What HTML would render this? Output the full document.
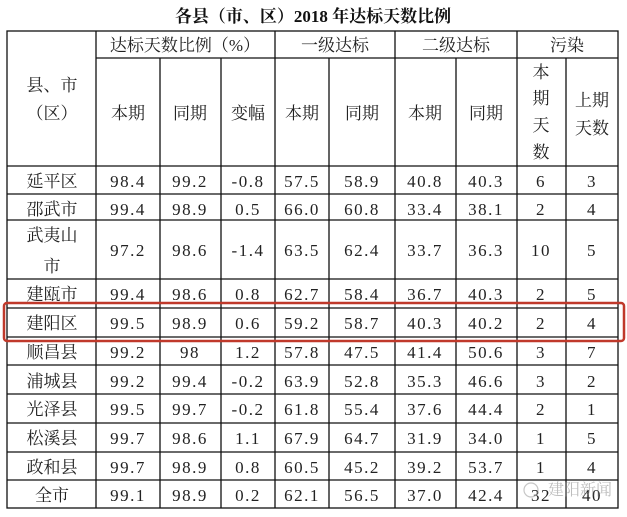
<!DOCTYPE html>
<html><head><meta charset="utf-8"><style>
html,body{margin:0;padding:0;background:#fff;width:627px;height:517px;overflow:hidden}
svg text{font-family:"Liberation Serif","Noto Serif CJK SC",serif;fill:#222}
</style></head><body>
<svg width="627" height="517" viewBox="0 0 627 517" xmlns="http://www.w3.org/2000/svg">
<text x="313" y="22" text-anchor="middle" font-size="17" font-weight="bold" style="fill:#111">各县（市、区）2018 年达标天数比例</text>
<g stroke="#111" stroke-width="1.3" fill="none">
<rect x="7" y="31" width="611" height="477"/>
<line x1="96" y1="58" x2="618" y2="58"/>
<line x1="7" y1="166" x2="618" y2="166"/>
<line x1="7" y1="194" x2="618" y2="194"/>
<line x1="7" y1="220" x2="618" y2="220"/>
<line x1="7" y1="279" x2="618" y2="279"/>
<line x1="7" y1="308" x2="618" y2="308"/>
<line x1="7" y1="337" x2="618" y2="337"/>
<line x1="7" y1="365" x2="618" y2="365"/>
<line x1="7" y1="394" x2="618" y2="394"/>
<line x1="7" y1="423" x2="618" y2="423"/>
<line x1="7" y1="452" x2="618" y2="452"/>
<line x1="7" y1="480" x2="618" y2="480"/>
<line x1="96" y1="31" x2="96" y2="508"/>
<line x1="160" y1="58" x2="160" y2="508"/>
<line x1="221" y1="58" x2="221" y2="508"/>
<line x1="275" y1="31" x2="275" y2="508"/>
<line x1="329" y1="58" x2="329" y2="508"/>
<line x1="395" y1="31" x2="395" y2="508"/>
<line x1="456" y1="58" x2="456" y2="508"/>
<line x1="517" y1="31" x2="517" y2="508"/>
<line x1="566" y1="58" x2="566" y2="508"/>
</g>
<g font-size="17" text-anchor="middle">
<text x="185" y="51">达标天数比例（%）</text>
<text x="335" y="51">一级达标</text>
<text x="456" y="51">二级达标</text>
<text x="567" y="51">污染</text>
<text x="52" y="91">县、市</text>
<text x="52" y="119">（区）</text>
<text x="128" y="119">本期</text><text x="190" y="119">同期</text><text x="248" y="119">变幅</text>
<text x="302" y="119">本期</text><text x="362" y="119">同期</text><text x="425" y="119">本期</text><text x="486" y="119">同期</text>
<text x="541" y="78">本</text><text x="541" y="104">期</text><text x="541" y="131">天</text><text x="541" y="158">数</text>
<text x="592" y="106">上期</text><text x="592" y="134">天数</text>
</g>
<g font-size="17" text-anchor="middle">
<text x="52" y="187">延平区</text><text x="52" y="215">邵武市</text>
<text x="52" y="241">武夷山</text><text x="52" y="272">市</text>
<text x="52" y="300">建瓯市</text><text x="52" y="329">建阳区</text>
<text x="52" y="358">顺昌县</text><text x="52" y="387">浦城县</text>
<text x="52" y="415">光泽县</text><text x="52" y="444">松溪县</text>
<text x="52" y="473">政和县</text><text x="52" y="501">全市</text>
</g>
<g font-size="17" text-anchor="middle" letter-spacing="1.5">
<g id="c">
<text x="128" y="187">98.4</text><text x="190" y="187">99.2</text><text x="248" y="187">-0.8</text><text x="302" y="187">57.5</text><text x="362" y="187">58.9</text><text x="425" y="187">40.8</text><text x="486" y="187">40.3</text><text x="541" y="187">6</text><text x="592" y="187">3</text>
<text x="128" y="215">99.4</text><text x="190" y="215">98.9</text><text x="248" y="215">0.5</text><text x="302" y="215">66.0</text><text x="362" y="215">60.8</text><text x="425" y="215">33.4</text><text x="486" y="215">38.1</text><text x="541" y="215">2</text><text x="592" y="215">4</text>
<text x="128" y="256">97.2</text><text x="190" y="256">98.6</text><text x="248" y="256">-1.4</text><text x="302" y="256">63.5</text><text x="362" y="256">62.4</text><text x="425" y="256">33.7</text><text x="486" y="256">36.3</text><text x="541" y="256">10</text><text x="592" y="256">5</text>
<text x="128" y="300">99.4</text><text x="190" y="300">98.6</text><text x="248" y="300">0.8</text><text x="302" y="300">62.7</text><text x="362" y="300">58.4</text><text x="425" y="300">36.7</text><text x="486" y="300">40.3</text><text x="541" y="300">2</text><text x="592" y="300">5</text>
<text x="128" y="329">99.5</text><text x="190" y="329">98.9</text><text x="248" y="329">0.6</text><text x="302" y="329">59.2</text><text x="362" y="329">58.7</text><text x="425" y="329">40.3</text><text x="486" y="329">40.2</text><text x="541" y="329">2</text><text x="592" y="329">4</text>
<text x="128" y="358">99.2</text><text x="190" y="358">98</text><text x="248" y="358">1.2</text><text x="302" y="358">57.8</text><text x="362" y="358">47.5</text><text x="425" y="358">41.4</text><text x="486" y="358">50.6</text><text x="541" y="358">3</text><text x="592" y="358">7</text>
<text x="128" y="387">99.2</text><text x="190" y="387">99.4</text><text x="248" y="387">-0.2</text><text x="302" y="387">63.9</text><text x="362" y="387">52.8</text><text x="425" y="387">35.3</text><text x="486" y="387">46.6</text><text x="541" y="387">3</text><text x="592" y="387">2</text>
<text x="128" y="415">99.5</text><text x="190" y="415">99.7</text><text x="248" y="415">-0.2</text><text x="302" y="415">61.8</text><text x="362" y="415">55.4</text><text x="425" y="415">37.6</text><text x="486" y="415">44.4</text><text x="541" y="415">2</text><text x="592" y="415">1</text>
<text x="128" y="444">99.7</text><text x="190" y="444">98.6</text><text x="248" y="444">1.1</text><text x="302" y="444">67.9</text><text x="362" y="444">64.7</text><text x="425" y="444">31.9</text><text x="486" y="444">34.0</text><text x="541" y="444">1</text><text x="592" y="444">5</text>
<text x="128" y="473">99.7</text><text x="190" y="473">98.9</text><text x="248" y="473">0.8</text><text x="302" y="473">60.5</text><text x="362" y="473">45.2</text><text x="425" y="473">39.2</text><text x="486" y="473">53.7</text><text x="541" y="473">1</text><text x="592" y="473">4</text>
<text x="128" y="501">99.1</text><text x="190" y="501">98.9</text><text x="248" y="501">0.2</text><text x="302" y="501">62.1</text><text x="362" y="501">56.5</text><text x="425" y="501">37.0</text><text x="486" y="501">42.4</text><text x="541" y="501">32</text><text x="592" y="501">40</text>
</g>
</g>
<rect x="4" y="303" width="620" height="38" rx="3" fill="none" stroke="#c0392b" stroke-width="2.5"/>
<g opacity="0.55">
<circle cx="531" cy="490" r="7" fill="none" stroke="#999" stroke-width="1.2"/>
<text x="580" y="495" text-anchor="middle" font-size="16" style="fill:#888">建阳新闻</text>
</g>
</svg>
</body></html>
